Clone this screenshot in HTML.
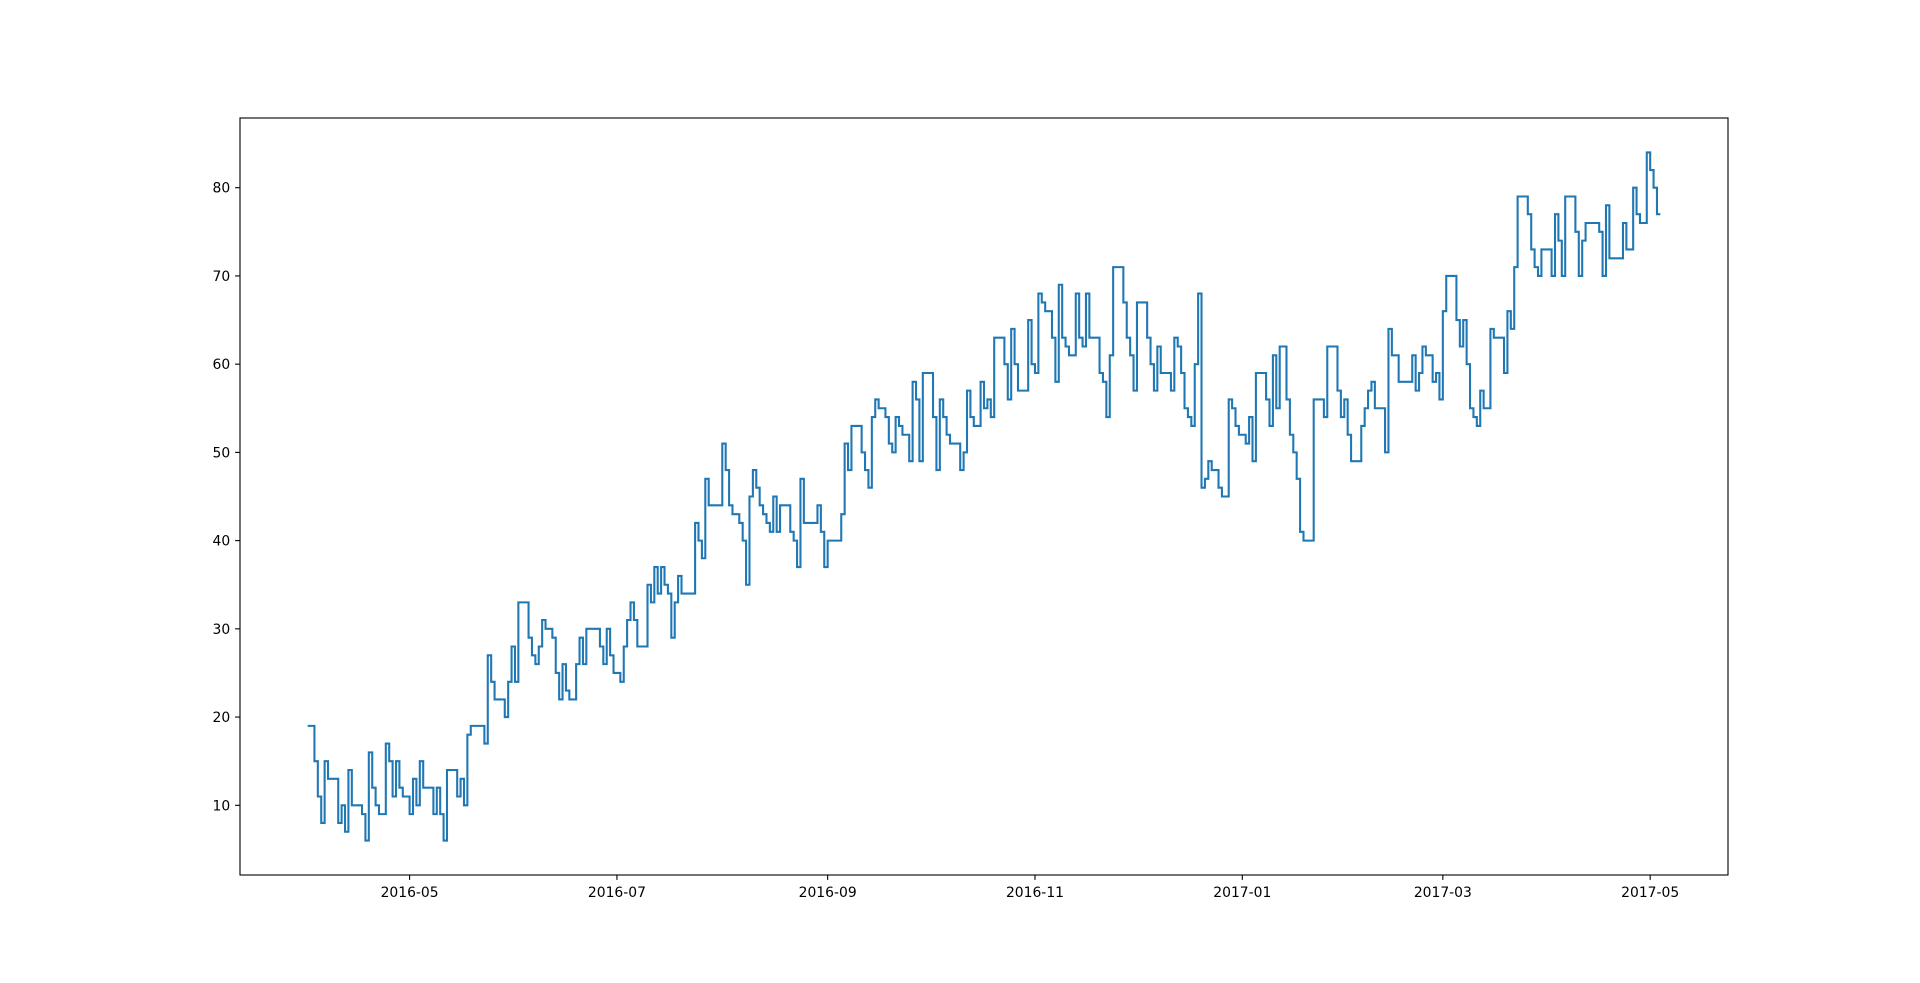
<!DOCTYPE html>
<html><head><meta charset="utf-8"><style>
html,body{margin:0;padding:0;background:#fff;}
svg{display:block;}
text{font-family:"DejaVu Sans","Liberation Sans",sans-serif;font-size:13.9px;fill:#000;}
</style></head><body>
<svg id="chart" width="1920" height="983" viewBox="0 0 1920 983" xmlns="http://www.w3.org/2000/svg">
<rect x="0" y="0" width="1920" height="983" fill="#fff"/>
<g id="plot"></g>
</svg>
<script>
const startDate = "2016-04-01";
const values = [
19,19,15,11,8,15,13,13,13,8,10,7,14,10,10,10,9,6,16,12,10,9,9,17,15,11,15,12,11,11,9,13,10,15,12,12,12,9,12,9,6,14,14,14,11,13,10,18,19,19,19,19,17,27,24,22,22,22,20,24,28,24,33,33,33,29,27,26,
28,31,30,30,29,25,22,26,23,22,22,26,29,26,30,30,30,30,28,26,30,27,25,25,24,28,31,33,31,28,28,28,35,33,37,34,37,35,34,29,33,36,34,34,34,34,42,40,38,47,44,44,44,44,51,48,44,43,43,42,40,35,45,48,46,44,43,42,41,45,41,
44,44,44,41,40,37,47,42,42,42,42,44,41,37,40,40,40,40,43,51,48,53,53,53,50,48,46,54,56,55,55,54,51,50,54,53,52,52,49,58,56,49,59,59,59,54,48,56,54,52,51,51,51,48,50,57,54,53,53,58,55,56,54,63,63,63,60,
56,64,60,57,57,57,65,60,59,68,67,66,66,63,58,69,63,62,61,61,68,63,62,68,63,63,63,59,58,54,61,71,71,71,67,63,61,57,67,67,67,63,60,57,62,59,59,59,57,63,62,59,55,54,53,60,68,46,47,49,48,48,46,45,45,56,55,
53,52,52,51,54,49,59,59,59,56,53,61,55,62,62,56,52,50,47,41,40,40,40,56,56,56,54,62,62,62,57,54,56,52,49,49,49,53,55,57,58,55,55,55,50,64,61,61,58,58,58,58,61,57,59,62,61,61,58,59,56,66,70,70,70,65,62,65,
60,55,54,53,57,55,55,64,63,63,63,59,66,64,71,79,79,79,77,73,71,70,73,73,73,70,77,74,70,79,79,79,75,70,74,76,76,76,76,75,70,78,72,72,72,72,76,73,73,80,77,76,76,84,82,80,77
];
const xTickDates = ["2016-05-01","2016-07-01","2016-09-01","2016-11-01","2017-01-01","2017-03-01","2017-05-01"];
const xTickLabels = ["2016-05","2016-07","2016-09","2016-11","2017-01","2017-03","2017-05"];
const yTicks = [10,20,30,40,50,60,70,80];

const NS = "http://www.w3.org/2000/svg";
const L = 240, R = 1728, T = 118, B = 875;
const day0 = Date.parse(startDate + "T00:00:00Z");
function dayOf(s){ return (Date.parse(s + "T00:00:00Z") - day0) / 86400000; }
const nDays = values.length;
const xMin = -0.05 * nDays, xMax = nDays * 1.05;
const vMin = Math.min(...values), vMax = Math.max(...values);
const yPad = (vMax - vMin) * 0.05;
const yMin = vMin - yPad, yMax = vMax + yPad;
function X(d){ return L + (d - xMin) / (xMax - xMin) * (R - L); }
function Y(v){ return B - (v - yMin) / (yMax - yMin) * (B - T); }
const g = document.getElementById("plot");
function mk(tag, attrs){ const e = document.createElementNS(NS, tag); for (const k in attrs) e.setAttribute(k, attrs[k]); return e; }

// series
let d = "";
for (let i = 0; i < nDays; i++) {
  const y = Y(values[i]).toFixed(2);
  if (i === 0) d += "M" + X(0).toFixed(2) + "," + y;
  else d += "V" + y;
  d += "H" + X(i + 1).toFixed(2);
}
const line = mk("path", {d: d, fill: "none", stroke: "#1f77b4", "stroke-width": "2.08", "stroke-linejoin": "miter"});


g.appendChild(line);

// axes frame
const frame = mk("rect", {x: L, y: T, width: R - L, height: B - T, fill: "none", stroke: "#000", "stroke-width": "1.1"});


g.appendChild(frame);

// x ticks
xTickDates.forEach((s, i) => {
  const x = X(dayOf(s));
  const t = mk("line", {x1: x, x2: x, y1: B, y2: B + 4.9, stroke: "#000", "stroke-width": "1.1"});
  
  
  g.appendChild(t);
  const lb = mk("text", {x: x, y: B + 22, "text-anchor": "middle"});
  
  
  lb.textContent = xTickLabels[i];
  g.appendChild(lb);
});
// y ticks
yTicks.forEach(v => {
  const y = Y(v);
  const t = mk("line", {x1: L - 4.9, x2: L, y1: y, y2: y, stroke: "#000", "stroke-width": "1.1"});
  
  
  g.appendChild(t);
  const lb = mk("text", {x: L - 9.8, y: y + 5, "text-anchor": "end"});
  
  
  lb.textContent = String(v);
  g.appendChild(lb);
});
</script>
</body></html>
